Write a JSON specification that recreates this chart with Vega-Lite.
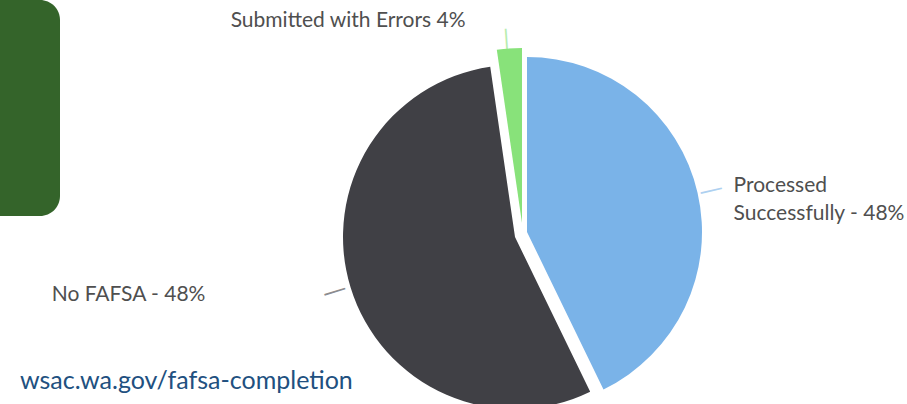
{
  "$schema": "https://vega.github.io/schema/vega-lite/v6.json",
  "autosize": {"type": "pad"},
  "padding": {"left": -22, "top": 0, "right": 0, "bottom": 0},
  "background": "white",
  "bounds": "flush",
  "config": {"view": {"stroke": null}, "font": "Lato"},
  "title": {
    "text": "wsac.wa.gov/fafsa-completion",
    "orient": "bottom",
    "anchor": "start",
    "frame": "bounds",
    "offset": -99,
    "dx": 42,
    "fontSize": 25,
    "fontWeight": "normal",
    "font": "Lato",
    "color": "#21507f"
  },
  "data": {
    "values": [
      {"idx": 1, "category": "Processed Successfully", "value": 42.8, "label": "Processed\nSuccessfully - 48%"},
      {"idx": 2, "category": "No FAFSA", "value": 54.9, "label": "No FAFSA - 48%"},
      {"idx": 3, "category": "Submitted with Errors", "value": 2.3, "label": "Submitted with Errors 4%"}
    ]
  },
  "spacing": 0,
  "hconcat": [
    {
      "width": 82,
      "height": 216,
      "view": {"fill": "#34642a", "stroke": null, "cornerRadius": 20},
      "mark": {"type": "text"},
      "encoding": {"text": {"value": ""}}
    },
    {
      "width": 922,
      "height": 468,
      "view": {"stroke": null},
      "layer": [
        {
          "transform": [
            {"stack": "value", "groupby": [], "sort": [{"field": "idx", "order": "ascending"}], "as": ["v0", "v1"]},
            {"filter": "datum.idx == 1"}
          ],
          "mark": {"type": "arc", "outerRadius": 175, "xOffset": 6, "yOffset": -2},
          "encoding": {
            "theta": {"field": "v0", "type": "quantitative", "scale": {"domain": [0, 100]}},
            "theta2": {"field": "v1"},
            "color": {"field": "category", "type": "nominal", "legend": null,
              "scale": {"domain": ["Processed Successfully", "No FAFSA", "Submitted with Errors"], "range": ["#7ab3e8", "#404045", "#88e27a"]}}
          }
        },
        {
          "transform": [
            {"stack": "value", "groupby": [], "sort": [{"field": "idx", "order": "ascending"}], "as": ["v0", "v1"]},
            {"filter": "datum.idx == 2"}
          ],
          "mark": {"type": "arc", "outerRadius": 172, "xOffset": -6, "yOffset": 3},
          "encoding": {
            "theta": {"field": "v0", "type": "quantitative", "scale": {"domain": [0, 100]}},
            "theta2": {"field": "v1"},
            "color": {"field": "category", "type": "nominal", "legend": null}
          }
        },
        {
          "transform": [
            {"stack": "value", "groupby": [], "sort": [{"field": "idx", "order": "ascending"}], "as": ["v0", "v1"]},
            {"filter": "datum.idx == 3"}
          ],
          "mark": {"type": "arc", "outerRadius": 175, "xOffset": 1, "yOffset": -11},
          "encoding": {
            "theta": {"field": "v0", "type": "quantitative", "scale": {"domain": [0, 100]}},
            "theta2": {"field": "v1"},
            "color": {"field": "category", "type": "nominal", "legend": null}
          }
        },
        {
          "mark": {"type": "text", "radius": 195, "fontSize": 24, "font": "DejaVu Sans", "opacity": 0.6,
            "angle": {"expr": "datum.idx == 1 ? 347 : datum.idx == 2 ? 343 : 86"}},
          "encoding": {
            "theta": {"field": "value", "type": "quantitative", "stack": true},
            "order": {"field": "idx", "type": "quantitative"},
            "color": {"field": "category", "type": "nominal", "legend": null},
            "text": {"value": "—"}
          }
        },
        {
          "mark": {"type": "text", "radius": 214, "fontSize": 21, "font": "Lato", "lineBreak": "\n", "lineHeight": 28,
            "color": "#4f4f4f", "baseline": "middle",
            "align": {"expr": "datum.idx == 1 ? 'left' : 'right'"},
            "dx": {"expr": "datum.idx == 1 ? 4 : datum.idx == 2 ? -111 : -40"},
            "dy": {"expr": "datum.idx == 1 ? 0 : datum.idx == 2 ? -2 : 0"}},
          "encoding": {
            "theta": {"field": "value", "type": "quantitative", "stack": true},
            "order": {"field": "idx", "type": "quantitative"},
            "detail": {"field": "category", "type": "nominal"},
            "text": {"field": "label", "type": "nominal"}
          }
        }
      ]
    }
  ]
}
